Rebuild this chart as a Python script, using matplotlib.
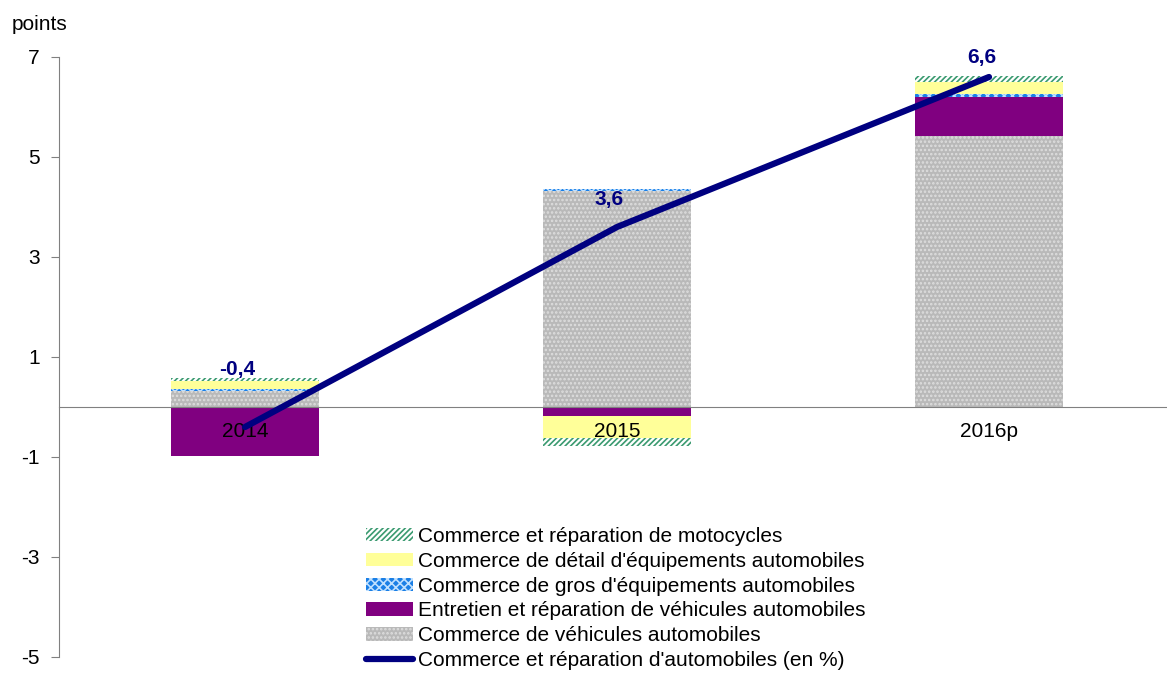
import matplotlib
matplotlib.use('Agg')
import matplotlib.pyplot as plt
import numpy as np

plt.rcParams['font.family'] = ['Liberation Sans', 'DejaVu Sans']
plt.rcParams['hatch.linewidth'] = 1.2
plt.rcParams['axes.unicode_minus'] = False

years = ['2014', '2015', '2016p']

# contributions (points), stacked from the axis outwards
vehicules = [0.32, 4.32, 5.42]
entretien = [-0.97, -0.17, 0.79]
gros = [0.04, 0.04, 0.05]
detail = [0.16, -0.45, 0.25]
motocycles = [0.06, -0.15, 0.11]

total = [-0.4, 3.6, 6.6]
total_labels = ['-0,4', '3,6', '6,6']

series = [
    ('Commerce de véhicules automobiles', vehicules, '#b9b9b9', '#dedede', '....'),
    ('Entretien et réparation de véhicules automobiles', entretien, '#800080', '#800080', None),
    ("Commerce de gros d'équipements automobiles", gros, '#1a7fe6', '#bfe0ff', 'xxxx'),
    ("Commerce de détail d'équipements automobiles", detail, '#ffff99', '#ffff99', None),
    ('Commerce et réparation de motocycles', motocycles, '#ffffff', '#3a9a70', '//////'),
]

W, H = 1167, 673
fig = plt.figure(figsize=(W / 100, H / 100), dpi=100)
ax = fig.add_axes([59 / W, 16 / H, 1116 / W, 600 / H])
ax.set_axisbelow(False)

x = np.arange(len(years))
pos_base = np.zeros(len(years))
neg_base = np.zeros(len(years))
handles = {}
for name, vals, face, edge, hatch in series:
    vals = np.array(vals)
    bottoms = np.where(vals >= 0, pos_base, neg_base)
    b = ax.bar(x, vals, 0.4, bottom=bottoms, color=face, edgecolor=edge,
               hatch=hatch, linewidth=0, zorder=2)
    handles[name] = b
    pos_base += np.where(vals >= 0, vals, 0)
    neg_base += np.where(vals < 0, vals, 0)

line, = ax.plot(x, total, color='#000080', lw=4.5, solid_capstyle='round', zorder=4)

# value labels of the total line
offsets = [(-0.02, 1.14), (-0.02, 0.56), (-0.02, 0.4)]
for xi, v, lab, (dx, dy) in zip(x, total, total_labels, offsets):
    ax.text(xi + dx, v + dy, lab, ha='center', va='center', fontsize=15,
            fontweight='bold', color='#000080', zorder=5)

ax.set_xlim(-0.5, 2.5)
ax.set_ylim(-5, 7)
ax.set_yticks([7, 5, 3, 1, -1, -3, -5])
ax.set_xticks(x)
ax.set_xticklabels(years)

for s in ['top', 'right']:
    ax.spines[s].set_visible(False)
ax.spines['left'].set_color('#808080')
ax.spines['bottom'].set_color('#808080')
ax.spines['bottom'].set_position(('data', 0))
ax.tick_params(axis='y', direction='out', length=6, color='#808080', labelsize=15, pad=8)
ax.tick_params(axis='x', length=0, labelsize=15, pad=11)

fig.text(12 / W, 1 - 25 / H, 'points', fontsize=15, va='center', ha='left')

order = ['Commerce et réparation de motocycles',
         "Commerce de détail d'équipements automobiles",
         "Commerce de gros d'équipements automobiles",
         'Entretien et réparation de véhicules automobiles',
         'Commerce de véhicules automobiles']
leg_handles = [handles[n] for n in order] + [line]
leg_labels = order + ["Commerce et réparation d'automobiles (en %)"]
fig.legend(leg_handles, leg_labels, loc='upper left',
           bbox_to_anchor=(366 / W, 1 - 527 / H), frameon=False, fontsize=15,
           handlelength=2.25, handleheight=0.62, handletextpad=0.25,
           labelspacing=0.28, borderpad=0, borderaxespad=0)

fig.savefig('out.png', dpi=100)
